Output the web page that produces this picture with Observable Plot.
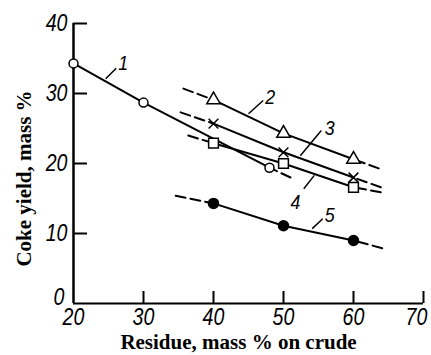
<!DOCTYPE html>
<html><head><meta charset="utf-8">
<script src="https://cdn.jsdelivr.net/npm/d3@7"></script>
<script src="https://cdn.jsdelivr.net/npm/@observablehq/plot@0.6"></script>
<style>html,body{margin:0;padding:0;background:#fff;} svg{display:block}</style>
</head><body><div id="chart"></div>
<script>
// Tick values
const xTicks = [20, 30, 40, 50, 60, 70];
const yTicks = [0, 10, 20, 30, 40];

// Curve identifiers
const curveIds = ["1", "2", "3", "4", "5"];

// Measured points (residue, mass % on crude -> coke yield, mass %)
const residue1 = [20, 30, 48];
const coke1 = [34.3, 28.7, 19.4];
const residue = [40, 50, 60];
const coke2 = [29.1, 24.3, 20.6];
const coke3 = [25.7, 21.6, 18.0];
const coke4 = [22.9, 20.0, 16.6];
const coke5 = [14.3, 11.1, 9.0];

// Dashed extrapolation ends (left start and right end), per curve
const leftExtX = [null, 35.7, 35.3, 36.4, 34.6];
const leftExtY = [null, 30.7, 27.3, 24.0, 15.4];
const rightExtX = [51.0, 63.6, 63.9, 63.9, 64.1];
const rightExtY = [18.0, 19.3, 16.6, 15.9, 7.9];

// Curve number labels and leader lines (data units)
const labelX = [27.1, 48.1, 56.6, 51.7, 56.6];
const labelY = [34.3, 29.4, 25.0, 14.4, 12.6];
const leadX1 = [24.6, 45.0, 52.4, 52.9, 54.1];
const leadY1 = [32.1, 27.1, 21.1, 16.4, 10.7];
const leadX2 = [26.1, 47.1, 55.4, 54.4, 55.6];
const leadY2 = [33.6, 29.0, 24.7, 18.3, 12.1];

const seriesX = [residue1, residue, residue, residue, residue];
const seriesY = [coke1, coke2, coke3, coke4, coke5];

const points = seriesX.flatMap((xs, i) => xs.map((x, j) => ({id: curveIds[i], x, y: seriesY[i][j]})));
const dashes = [];
seriesX.forEach((xs, i) => {
  const n = xs.length - 1;
  if (leftExtX[i] != null) {
    dashes.push({seg: i + "L", x: leftExtX[i], y: leftExtY[i]});
    dashes.push({seg: i + "L", x: xs[0], y: seriesY[i][0]});
  }
  dashes.push({seg: i + "R", x: rightExtX[i], y: rightExtY[i]});
  dashes.push({seg: i + "R", x: xs[n], y: seriesY[i][n]});
});
const labels = curveIds.map((id, i) => ({id, x: labelX[i], y: labelY[i], x1: leadX1[i], y1: leadY1[i], x2: leadX2[i], y2: leadY2[i]}));

const tickFont = "'Liberation Sans', Arial, sans-serif";
const titleFont = "'Liberation Serif', 'DejaVu Serif', serif";
const sel = id => points.filter(d => d.id === id);
const tickStyle = {fontStyle: "italic", fontSize: 23, fontFamily: tickFont, lineAnchor: "middle"};
const lastX = xTicks[xTicks.length - 1];

const chart = Plot.plot({
  width: 431,
  height: 355,
  marginLeft: 73,
  marginRight: 8,
  marginTop: 23,
  marginBottom: 52,
  x: {domain: [20, 70], axis: null},
  y: {domain: [0, 40], axis: null},
  style: {background: "white", color: "black"},
  marks: [
    // inward tick marks
    Plot.ruleX(xTicks.slice(1), {x: d => d, insetTop: 268, strokeWidth: 2}),
    Plot.ruleY(yTicks.slice(1), {y: d => d, insetRight: 336, strokeWidth: 2}),
    // axis lines
    Plot.ruleY([0], {strokeWidth: 2}),
    Plot.ruleX([20], {strokeWidth: 2.5}),
    // tick labels
    Plot.text(xTicks.filter(d => d !== lastX), {x: d => d, frameAnchor: "bottom", dy: 14, text: d => String(d), ...tickStyle}),
    Plot.text([lastX], {x: d => d, frameAnchor: "bottom", dy: 14, dx: -7, text: d => String(d), ...tickStyle}),
    Plot.text(yTicks.filter(d => d !== 0), {y: d => d, frameAnchor: "left", dx: -6, textAnchor: "end", text: d => String(d), ...tickStyle}),
    Plot.text(yTicks.filter(d => d === 0), {y: d => d, frameAnchor: "left", dx: -9, dy: -6, textAnchor: "end", text: d => String(d), ...tickStyle}),
    // axis titles
    Plot.text(["Residue, mass % on crude"], {frameAnchor: "bottom", textAnchor: "middle", dx: -10, dy: 39, lineAnchor: "middle", fontSize: 21, fontWeight: "bold", fontFamily: titleFont}),
    Plot.text(["Coke yield, mass %"], {frameAnchor: "left", textAnchor: "middle", rotate: -90, dx: -49, dy: 15, lineAnchor: "middle", fontSize: 21, fontWeight: "bold", fontFamily: titleFont}),
    // curves
    Plot.line(points, {x: "x", y: "y", z: "id", stroke: "black", strokeWidth: 2}),
    Plot.line(dashes, {x: "x", y: "y", z: "seg", stroke: "black", strokeWidth: 2, strokeDasharray: "10,5"}),
    Plot.link(labels, {x1: "x1", y1: "y1", x2: "x2", y2: "y2", stroke: "black", strokeWidth: 1.5}),
    Plot.text(labels, {x: "x", y: "y", text: "id", fontStyle: "italic", fontSize: 21, fontFamily: tickFont, lineAnchor: "middle"}),
    Plot.dot(sel("1"), {x: "x", y: "y", symbol: "circle", r: 4.5, fill: "white", stroke: "black", strokeWidth: 1.5}),
    Plot.dot(sel("2"), {x: "x", y: "y", symbol: "triangle", r: 5, fill: "white", stroke: "black", strokeWidth: 1.5}),
    Plot.dot(sel("3"), {x: "x", y: "y", symbol: "times", r: 4.5, stroke: "black", strokeWidth: 1.5}),
    Plot.dot(sel("4"), {x: "x", y: "y", symbol: "square", r: 5.5, fill: "white", stroke: "black", strokeWidth: 1.5}),
    Plot.dot(sel("5"), {x: "x", y: "y", symbol: "circle", r: 5, fill: "black", stroke: "black"})
  ]
});
document.getElementById("chart").appendChild(chart);
// condense the italic numerals like the original's narrow typeface
chart.querySelectorAll('g[font-style="italic"] text').forEach(t => {
  const len = t.getComputedTextLength();
  t.setAttribute("textLength", (len * 0.85).toFixed(1));
  t.setAttribute("lengthAdjust", "spacingAndGlyphs");
});
</script>
</body></html>
